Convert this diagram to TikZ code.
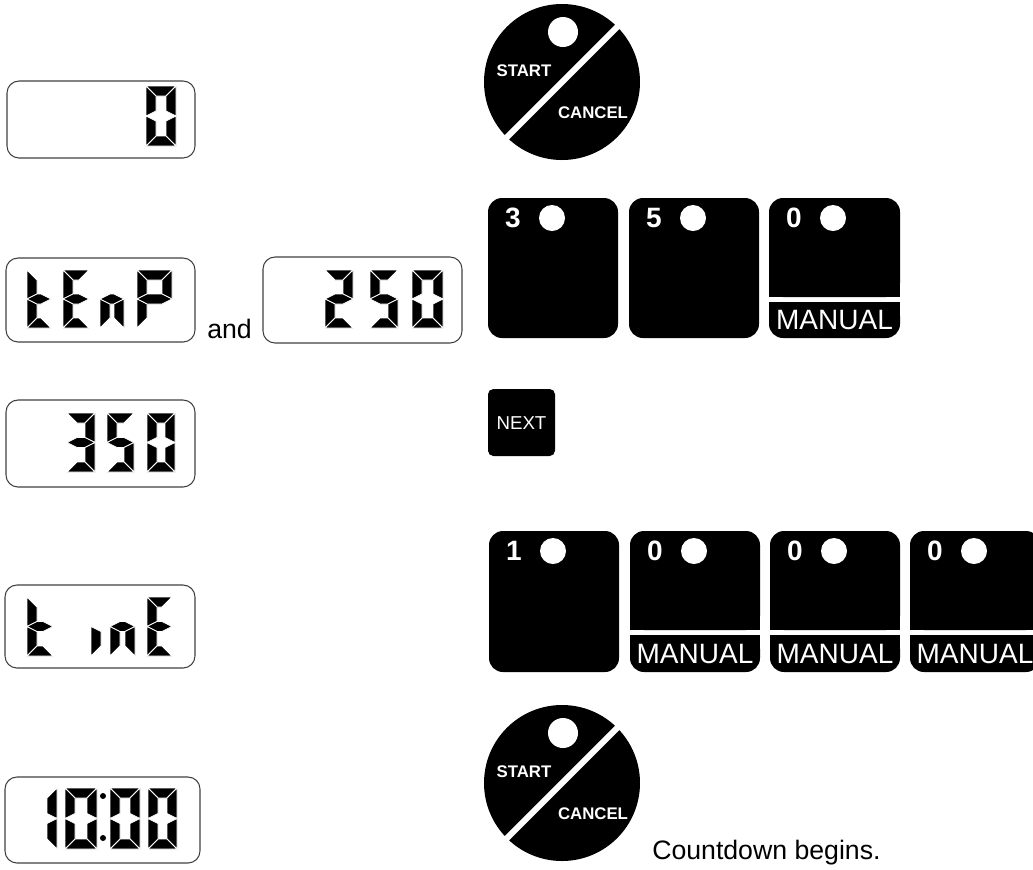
\documentclass[tikz,border=0pt]{standalone}
\usepackage{fontspec}
\setmainfont{Liberation Sans}
\def\sT{10}
\newcommand\SSa{\filldraw[seg] (0,0) -- (\sW,0) -- ({\sW-\sT},\sT) -- (\sT,\sT) -- cycle;}
\newcommand\SSb{\filldraw[seg] (\sW,0) -- (\sW,\sM) -- ({\sW-\sT},{\sM-\sT/2}) -- ({\sW-\sT},\sT) -- cycle;}
\newcommand\SSc{\filldraw[seg] (\sW,\sM) -- (\sW,\sH) -- ({\sW-\sT},{\sH-\sT}) -- ({\sW-\sT},{\sM+\sT/2}) -- cycle;}
\newcommand\SSd{\filldraw[seg] (0,\sH) -- (\sW,\sH) -- ({\sW-\sT},{\sH-\sT}) -- (\sT,{\sH-\sT}) -- cycle;}
\newcommand\SSe{\filldraw[seg] (0,\sM) -- (\sT,{\sM+\sT/2}) -- (\sT,{\sH-\sT}) -- (0,\sH) -- cycle;}
\newcommand\SSf{\filldraw[seg] (0,0) -- (\sT,\sT) -- (\sT,{\sM-\sT/2}) -- (0,\sM) -- cycle;}
\newcommand\SSg{\filldraw[seg] (0,\sM) -- (\sT,{\sM-\sT/2}) -- ({\sW-\sT},{\sM-\sT/2}) -- (\sW,\sM) -- ({\sW-\sT},{\sM+\sT/2}) -- (\sT,{\sM+\sT/2}) -- cycle;}
\newcommand\SSdigit[5]{\begin{scope}[shift={(#1,#2)}]\def\sW{#3}\def\sH{#4}\pgfmathsetmacro\sM{#4/2}\foreach \q in {#5}{\csname SS\q\endcsname}\end{scope}}
\begin{document}
\begin{tikzpicture}[x=0.75pt,y=-0.75pt,
  disp/.style={draw=black!75, line width=0.8pt, rounded corners=9pt},
  seg/.style={fill=black, draw=white, line width=0.6pt, line join=round},
  btnlbl/.style={text=white, font=\bfseries\fontsize{21}{21}\selectfont, inner sep=0pt},
  mantxt/.style={text=white, font=\fontsize{21}{21}\selectfont, inner sep=0pt},
  nexttxt/.style={text=white, font=\fontsize{14}{14}\selectfont, inner sep=0pt},
  sclbl/.style={text=white, font=\bfseries\fontsize{12.6}{13}\selectfont, inner sep=0pt},
  plain/.style={font=\fontsize{20}{24}\selectfont, inner sep=0pt}]
\useasboundingbox (0,0) rectangle (1033,869);

% ---------- displays ----------
\draw[disp] (7,81) rectangle (195,158);
\SSdigit{146}{86}{30}{60}{a,b,c,d,e,f}

\draw[disp] (6,258) rectangle (195,342);
\SSdigit{27}{270}{24}{58}{f,e,d,g}
\SSdigit{63}{270}{26}{58}{a,f,g,e,d}
\SSdigit{100}{270}{24}{58}{e,g,c}
\SSdigit{137}{270}{35}{58}{a,b,f,g,e}
\node[plain, anchor=base west] (and) at (207,338) {and};
\draw[disp] (263,257) rectangle (462,343);
\SSdigit{325}{270}{28}{58}{a,b,g,e,d}
\SSdigit{370}{270}{28}{58}{a,f,g,c,d}
\SSdigit{412}{270}{31}{58}{a,b,c,d,e,f}

\draw[disp] (6,400) rectangle (195,487);
\SSdigit{67}{413}{28}{59}{a,b,g,c,d}
\SSdigit{107}{413}{27}{59}{a,f,g,c,d}
\SSdigit{147}{413}{28}{59}{a,b,c,d,e,f}

\draw[disp] (5,585) rectangle (195,668);
\SSdigit{27}{597}{26}{59}{f,e,d,g}
\SSdigit{91}{597}{25}{59}{e}
\SSdigit{110}{597}{25}{59}{e,g,c}
\SSdigit{147}{597}{25}{59}{a,f,g,e,d}

\draw[disp] (5,777) rectangle (200,863);
\SSdigit{26}{788}{31}{61}{b,c}
\SSdigit{65}{788}{32}{61}{a,b,c,d,e,f}
\fill (103,796) circle[radius=3];
\fill (103,838) circle[radius=3];
\SSdigit{110}{788}{30}{61}{a,b,c,d,e,f}
\SSdigit{148}{788}{29}{61}{a,b,c,d,e,f}

% ---------- start / cancel (top) ----------
\fill (562,82) circle[radius=78];
\draw[white, line width=4.5pt] (482,162) -- (642,2);
\fill[white] (563,32) circle[radius=15];
\node[sclbl] (start1) at (524,71) {START};
\node[sclbl] (cancel1) at (593,113) {CANCEL};

% ---------- 3-button row ----------
\fill[rounded corners=10.5pt] (488,198) rectangle (618,338);
\node[btnlbl] (b3) at (513,218) {3};
\fill[white] (552,218) circle[radius=13];

\fill[rounded corners=10.5pt] (629,198) rectangle (759,338);
\node[btnlbl] (b5) at (654,218) {5};
\fill[white] (693,218) circle[radius=13];

\fill[rounded corners=10.5pt] (769,198) rectangle (900,297);
\fill (769,270) rectangle (900,297);
\fill[rounded corners=10.5pt] (769,302) rectangle (900,338);
\fill (769,302) rectangle (900,325);
\node[btnlbl] (b0) at (794,218) {0};
\fill[white] (833,218) circle[radius=13];
\node[mantxt] (man0) at (834.5,320) {MANUAL};

% ---------- NEXT ----------
\fill[rounded corners=4pt] (488,389) rectangle (555,456);
\node[nexttxt] (next) at (521.5,423) {NEXT};

% ---------- 4-button row ----------
\fill[rounded corners=10.5pt] (489,531) rectangle (619,672);
\node[btnlbl] (c1) at (514,551) {1};
\fill[white] (553,551) circle[radius=13];

\foreach \bx/\nm in {630/c2,770/c3,910/c4}{
  \fill[rounded corners=10.5pt] (\bx,531) rectangle ({\bx+130},630);
  \fill (\bx,600) rectangle ({\bx+130},630);
  \fill[rounded corners=10.5pt] (\bx,635) rectangle ({\bx+130},672);
  \fill (\bx,635) rectangle ({\bx+130},655);
  \node[btnlbl] (\nm) at ({\bx+25},551) {0};
  \fill[white] ({\bx+64},551) circle[radius=13];
  \node[mantxt] (\nm m) at ({\bx+65},653.5) {MANUAL};
}

% ---------- start / cancel (bottom) ----------
\fill (562,783) circle[radius=78];
\draw[white, line width=4.5pt] (482,863) -- (642,703);
\fill[white] (563,733) circle[radius=15];
\node[sclbl] (start2) at (524,772) {START};
\node[sclbl] (cancel2) at (593,814) {CANCEL};
\node[plain, anchor=base west] (cd) at (652,859) {Countdown begins.};
\end{tikzpicture}
\end{document}
